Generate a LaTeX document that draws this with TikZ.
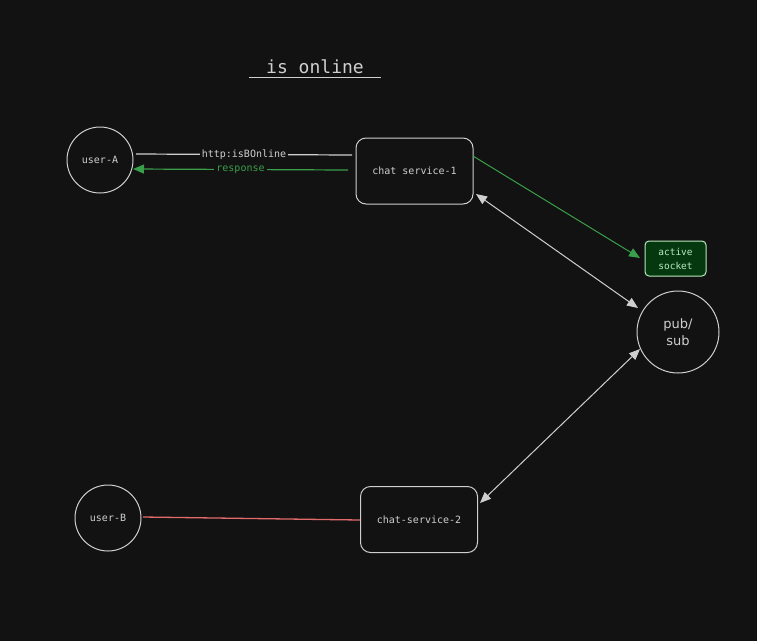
\documentclass[tikz,border=0pt]{standalone}
\usepackage{fontspec}
\setmonofont{DejaVu Sans Mono}
\setsansfont{DejaVu Sans}
\usetikzlibrary{arrows.meta}
\definecolor{bg}{HTML}{121212}
\definecolor{lineg}{HTML}{CFCFCF}
\definecolor{okgreen}{HTML}{3A9F4A}
\definecolor{sockfill}{HTML}{06380F}
\definecolor{sockline}{HTML}{B9E8BE}
\definecolor{badred}{HTML}{E26A6A}
\begin{document}
\begin{tikzpicture}[
  x=1pt, y=-1pt, line width=1pt,
  every node/.style={
    text=lineg, font=\ttfamily\fontsize{10}{12}\selectfont
  },
  user/.style={
    circle, draw=lineg, minimum size=66pt, inner sep=0pt
  },
  service/.style={
    rectangle, rounded corners=10pt, draw=lineg,
    minimum width=117pt, minimum height=66pt
  },
  tag/.style={
    fill=bg, inner sep=2pt
  },
  tip/.style={
    -{Triangle[length=11pt,width=9pt]}
  },
  both/.style={
    {Triangle[length=11pt,width=9pt]}-{Triangle[length=11pt,width=9pt]}
  }
  ]
  \fill[bg] (0,0) rectangle (757,641);
  \useasboundingbox (0,0) rectangle (757,641);

  % title
  \node (title) at (315,67) {\fontsize{18}{20}\selectfont is online};
  \draw[lineg] (249,77) -- (381,77);

  % nodes
  \node[user] (userA) at (100,160) {user-A};
  \node[user] (userB) at (108,518) {user-B};
  \node[service] (chat1) at (414.5,171) {chat service-1};
  \node[service] (chat2) at (419,519.5) {chat-service-2};
  \node[circle, draw=lineg, minimum size=82pt, inner sep=0pt,
    font=\sffamily\fontsize{13}{17}\selectfont, align=center]
    (pubsub) at (678,332) {pub/\\sub};
  \node[rectangle, rounded corners=4pt, draw=sockline, fill=sockfill,
    text=sockline, minimum width=61pt, minimum height=35pt, align=center,
    font=\ttfamily\fontsize{9.5}{14}\selectfont]
    (socket) at (675.5,258.5) {active\\socket};

  % connectors
  \coordinate (reqA) at (136,154);
  \coordinate (reqC) at (352,155);
  \draw[lineg, line width=1.2pt] (reqA) -- node[tag] (req) {http:isBOnline} (reqC);
  \coordinate (resC) at (348,170);
  \coordinate (resA) at (133,169);
  \draw[okgreen, line width=1.2pt, tip] (resC) -- node[tag, text=okgreen] (res) {response} (resA);
  \coordinate (sockS) at (473,156);
  \coordinate (sockE) at (640,258);
  \draw[okgreen, tip] (sockS) -- (sockE);
  \coordinate (ps1a) at (476,194);
  \coordinate (ps1b) at (638,308);
  \draw[lineg, both] (ps1a) -- (ps1b);
  \coordinate (ps2a) at (480,503);
  \coordinate (ps2b) at (640,349);
  \draw[lineg, both] (ps2a) -- (ps2b);
  \coordinate (redA) at (143,517);
  \coordinate (redC) at (360,520);
  \draw[badred, line width=1.3pt] (redA) -- (redC);
\end{tikzpicture}
\end{document}
